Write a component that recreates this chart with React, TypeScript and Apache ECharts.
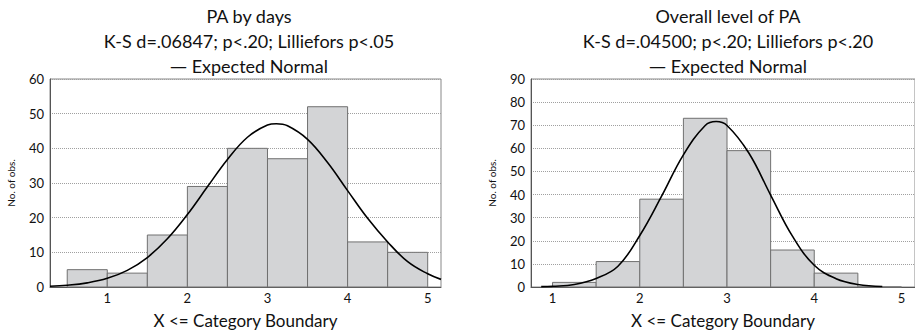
import React, { useEffect, useRef } from "react";
import * as echarts from "echarts";

// ---- Data ----
const titleLeft = "PA by days";
const statsLeft = "K-S d=.06847; p<.20; Lilliefors p<.05";
const titleRight = "Overall level of PA";
const statsRight = "K-S d=.04500; p<.20; Lilliefors p<.20";
const legendText = "Expected Normal";
const xAxisTitle = "X <= Category Boundary";
const yAxisTitle = "No. of obs.";
const xTickValues = [1, 2, 3, 4, 5];

// bins: [lower boundary, upper boundary, count]
const binsLeft: number[][] = [
  [0.5, 1.0, 5],
  [1.0, 1.5, 4],
  [1.5, 2.0, 15],
  [2.0, 2.5, 29],
  [2.5, 3.0, 40],
  [3.0, 3.5, 37],
  [3.5, 4.0, 52],
  [4.0, 4.5, 13],
  [4.5, 5.0, 10],
];
const binsRight: number[][] = [
  [1.0, 1.5, 2],
  [1.5, 2.0, 11],
  [2.0, 2.5, 38],
  [2.5, 3.0, 73],
  [3.0, 3.5, 59],
  [3.5, 4.0, 16],
  [4.0, 4.5, 6],
  [4.5, 5.0, 0],
];

// expected normal curve points [x, expected count]
const curveLeft: number[][] = [
  [0.285, 0.2], [0.5, 0.5], [0.75, 1.2], [1.0, 2.5], [1.25, 4.8], [1.5, 8.5],
  [1.75, 13.9], [2.0, 20.9], [2.25, 28.9], [2.5, 36.8], [2.75, 43.2],
  [3.0, 46.7], [3.11, 47.1], [3.25, 46.5], [3.5, 42.6], [3.75, 35.9],
  [4.0, 27.8], [4.25, 19.8], [4.5, 13.0], [4.75, 7.3], [5.0, 3.8], [5.166, 2.2],
];
const curveRight: number[][] = [
  [0.87, 0.15], [1.0, 0.3], [1.25, 1.1], [1.5, 3.7], [1.75, 9.0], [2.0, 22.3],
  [2.25, 39.3], [2.5, 57.2], [2.75, 69.9], [2.875, 71.6], [3.0, 69.9],
  [3.25, 58.0], [3.5, 39.8], [3.75, 22.0], [4.0, 9.4], [4.25, 3.6],
  [4.5, 1.1], [4.78, 0.2],
];

const FONT = "Lato";

function histItem(params: any, api: any) {
  const x0 = api.value(0);
  const x1 = api.value(1);
  const v = api.value(2);
  const p0 = api.coord([x0, v]);
  const p1 = api.coord([x1, 0]);
  return {
    type: "rect",
    shape: { x: p0[0], y: p0[1], width: p1[0] - p0[0], height: p1[1] - p0[1] },
    style: { fill: "#d3d4d6", stroke: "#707070", lineWidth: 1 },
  };
}

export default function App() {
  const ref = useRef<HTMLDivElement>(null);
  useEffect(() => {
    if (!ref.current) return;
    const chart = echarts.init(ref.current, undefined, { renderer: "svg" });
    const titleStyle = {
      fontFamily: FONT,
      fontSize: 18,
      fontWeight: "normal" as const,
      color: "#111",
      lineHeight: 25,
      rich: {
        d: { fontFamily: "DejaVu Sans", fontSize: 17, color: "#111", lineHeight: 25 },
        t: { fontFamily: FONT, fontSize: 18, color: "#111", lineHeight: 25 },
      },
    };
    const xAxisCommon = {
      type: "value" as const,
      axisTick: { show: false },
      splitLine: { show: false },
      axisLine: { lineStyle: { color: "#555", width: 1 } },
      axisLabel: {
        customValues: xTickValues,
        fontFamily: FONT,
        fontSize: 13,
        color: "#111",
        margin: 4,
      },
      name: xAxisTitle,
      nameLocation: "middle" as const,
      nameGap: 25,
      nameTextStyle: { fontFamily: FONT, fontSize: 17, color: "#111" },
    };
    const yAxisCommon = {
      type: "value" as const,
      interval: 10,
      min: 0,
      axisTick: { show: false },
      axisLine: { show: true, lineStyle: { color: "#555", width: 1 } },
      splitLine: { show: true, lineStyle: { type: "dotted" as const, color: "#a0a0a0" } },
      axisLabel: { fontFamily: FONT, fontSize: 13, color: "#111", margin: 6 },
      name: yAxisTitle,
      nameLocation: "middle" as const,
      nameGap: 34,
      nameTextStyle: { fontFamily: FONT, fontSize: 10, color: "#111" },
    };
    chart.setOption({
      animation: false,
      title: [
        {
          text: "{t|" + titleLeft + "}\n{t|" + statsLeft + "}\n{d|—} {t|" + legendText + "}",
          left: 244,
          top: -2,
          textAlign: "center",
          textStyle: titleStyle,
        },
        {
          text: "{t|" + titleRight + "}\n{t|" + statsRight + "}\n{d|—} {t|" + legendText + "}",
          left: 723,
          top: -2,
          textAlign: "center",
          textStyle: titleStyle,
        },
      ],
      grid: [
        { left: 50, top: 79, width: 391, height: 208, show: true, borderColor: "#888", borderWidth: 1 },
        { left: 531, top: 79, width: 387, height: 208, show: true, borderColor: "#888", borderWidth: 1 },
      ],
      xAxis: [
        { ...xAxisCommon, gridIndex: 0, min: 0.285, max: 5.166 },
        { ...xAxisCommon, gridIndex: 1, min: 0.753, max: 5.155 },
      ],
      yAxis: [
        { ...yAxisCommon, gridIndex: 0, max: 60 },
        { ...yAxisCommon, gridIndex: 1, max: 90 },
      ],
      series: [
        {
          type: "custom",
          xAxisIndex: 0,
          yAxisIndex: 0,
          renderItem: histItem,
          encode: { x: [0, 1], y: 2 },
          data: binsLeft,
          z: 2,
        },
        {
          type: "line",
          xAxisIndex: 0,
          yAxisIndex: 0,
          data: curveLeft,
          smooth: 0.4,
          symbol: "none",
          lineStyle: { color: "#000", width: 1.6 },
          z: 3,
        },
        {
          type: "custom",
          xAxisIndex: 1,
          yAxisIndex: 1,
          renderItem: histItem,
          encode: { x: [0, 1], y: 2 },
          data: binsRight,
          z: 2,
        },
        {
          type: "line",
          xAxisIndex: 1,
          yAxisIndex: 1,
          data: curveRight,
          smooth: 0.4,
          symbol: "none",
          lineStyle: { color: "#000", width: 1.6 },
          z: 3,
        },
      ],
    });
    return () => chart.dispose();
  }, []);
  return (
    <div
      ref={ref}
      style={{ position: "absolute", left: 0, top: 0, width: 915, height: 335, background: "#fff" }}
    />
  );
}
